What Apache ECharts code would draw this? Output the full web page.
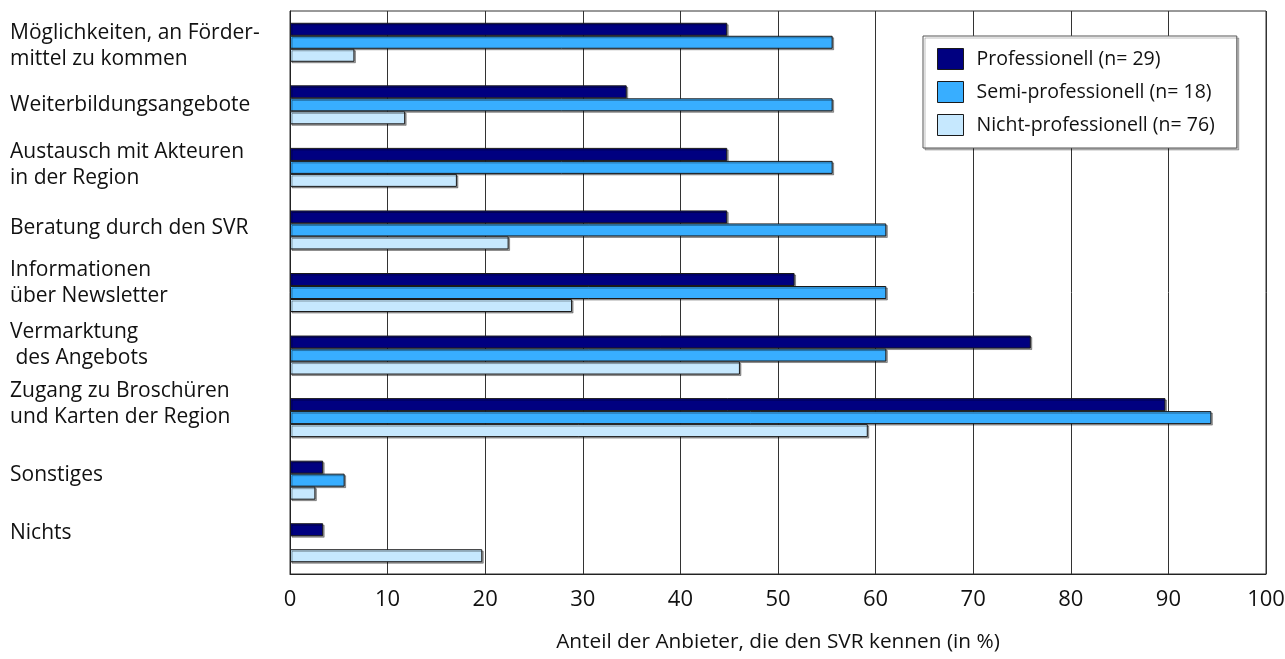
<!DOCTYPE html>
<html>
<head>
<meta charset="utf-8">
<script src="https://cdn.jsdelivr.net/npm/echarts@6/dist/echarts.min.js"></script>
<style>html,body{margin:0;padding:0;background:#fff}#c{width:1285px;height:659px}</style>
</head>
<body>
<div id="c"></div>
<script>
const categories = [
  "Möglichkeiten, an Förder-\nmittel zu kommen",
  "Weiterbildungsangebote",
  "Austausch mit Akteuren\nin der Region",
  "Beratung durch den SVR",
  "Informationen\nüber Newsletter",
  "Vermarktung\n des Angebots",
  "Zugang zu Broschüren\nund Karten der Region",
  "Sonstiges",
  "Nichts"
];
const seriesNames = ["Professionell (n= 29)", "Semi-professionell (n= 18)", "Nicht-professionell (n= 76)"];
const professionell = [44.8, 34.5, 44.8, 44.8, 51.7, 75.9, 89.7, 3.4, 3.4];
const semiProfessionell = [55.6, 55.6, 55.6, 61.1, 61.1, 61.1, 94.4, 5.6, 0];
const nichtProfessionell = [6.6, 11.8, 17.1, 22.4, 28.9, 46.1, 59.2, 2.6, 19.7];
const xTicks = [0, 10, 20, 30, 40, 50, 60, 70, 80, 90, 100];
const xTitle = "Anteil der Anbieter, die den SVR kennen (in %)";

// label styling: vertical lift of each category label (px, positive = up)
const labelLift = [-4, 0, 2, 2, 9, 10, 14, 5, 10];
const colors = ["#000080", "#38AEFF", "#C6E8FE"];
const FONT = "Open Sans";

const rich = {t: {fontFamily: FONT, fontSize: 21, color: '#111', lineHeight: 26}};
labelLift.forEach((l, i) => {
  rich['s' + i] = {fontSize: 1, lineHeight: Math.max(1, 2 * Math.abs(l)), color: 'transparent'};
});

const chart = echarts.init(document.getElementById('c'), null, {renderer: 'canvas'});
const mkSeries = (name, data, i) => ({
  name: name,
  type: 'bar',
  data: data.map(v => v === 0 ? {value: v, itemStyle: {borderWidth: 0, shadowColor: 'transparent'}} : v),
  barWidth: 13,
  barGap: '0%',
  itemStyle: {
    color: colors[i],
    borderColor: '#1a1a1a',
    borderWidth: 1,
    shadowColor: 'rgba(0,0,0,0.35)',
    shadowOffsetX: 1.5,
    shadowOffsetY: 1.5,
    shadowBlur: 0
  },
  emphasis: {disabled: true},
  animation: false
});

chart.setOption({
  animation: false,
  textStyle: {fontFamily: FONT},
  grid: {
    left: 290, right: 19, top: 11, bottom: 85,
    containLabel: false, outerBoundsMode: 'none',
    show: true, borderColor: '#333', borderWidth: 1
  },
  legend: {
    orient: 'vertical',
    left: 923, top: 36,
    itemWidth: 26, itemHeight: 21, itemGap: 11,
    padding: [12, 22, 12, 14],
    backgroundColor: '#fff',
    borderColor: '#555', borderWidth: 1,
    shadowColor: 'rgba(0,0,0,0.25)', shadowOffsetX: 2, shadowOffsetY: 2,
    textStyle: {fontFamily: FONT, fontSize: 19.5, color: '#111', padding: [0, 0, 0, 8]},
    itemStyle: {borderColor: '#1a1a1a', borderWidth: 1},
    data: seriesNames.map(n => ({name: n, icon: 'rect'}))
  },
  xAxis: {
    type: 'value',
    min: xTicks[0], max: xTicks[xTicks.length - 1], interval: 10,
    axisLine: {show: true, lineStyle: {color: '#222'}},
    axisTick: {show: false},
    splitLine: {show: true, lineStyle: {color: '#333', width: 1}},
    axisLabel: {fontFamily: FONT, fontSize: 22, color: '#111', margin: 15},
    name: xTitle,
    nameLocation: 'middle',
    nameGap: 58,
    nameTextStyle: {fontFamily: FONT, fontSize: 20.8, color: '#111'}
  },
  yAxis: {
    type: 'category',
    inverse: true,
    data: categories,
    axisLine: {show: true, lineStyle: {color: '#222'}},
    axisTick: {show: false},
    splitLine: {show: false},
    axisLabel: {
      interval: 0,
      align: 'left',
      margin: 280,
      rich: rich,
      formatter: (v, i) => {
        const lines = v.split('\n').map(s => '{t|' + s + '}').join('\n');
        const sp = '{s' + i + '| }';
        const l = labelLift[i];
        if (l > 0) return lines + '\n' + sp;
        if (l < 0) return sp + '\n' + lines;
        return lines;
      }
    }
  },
  series: [
    mkSeries(seriesNames[0], professionell, 0),
    mkSeries(seriesNames[1], semiProfessionell, 1),
    mkSeries(seriesNames[2], nichtProfessionell, 2)
  ]
});
</script>
</body>
</html>
